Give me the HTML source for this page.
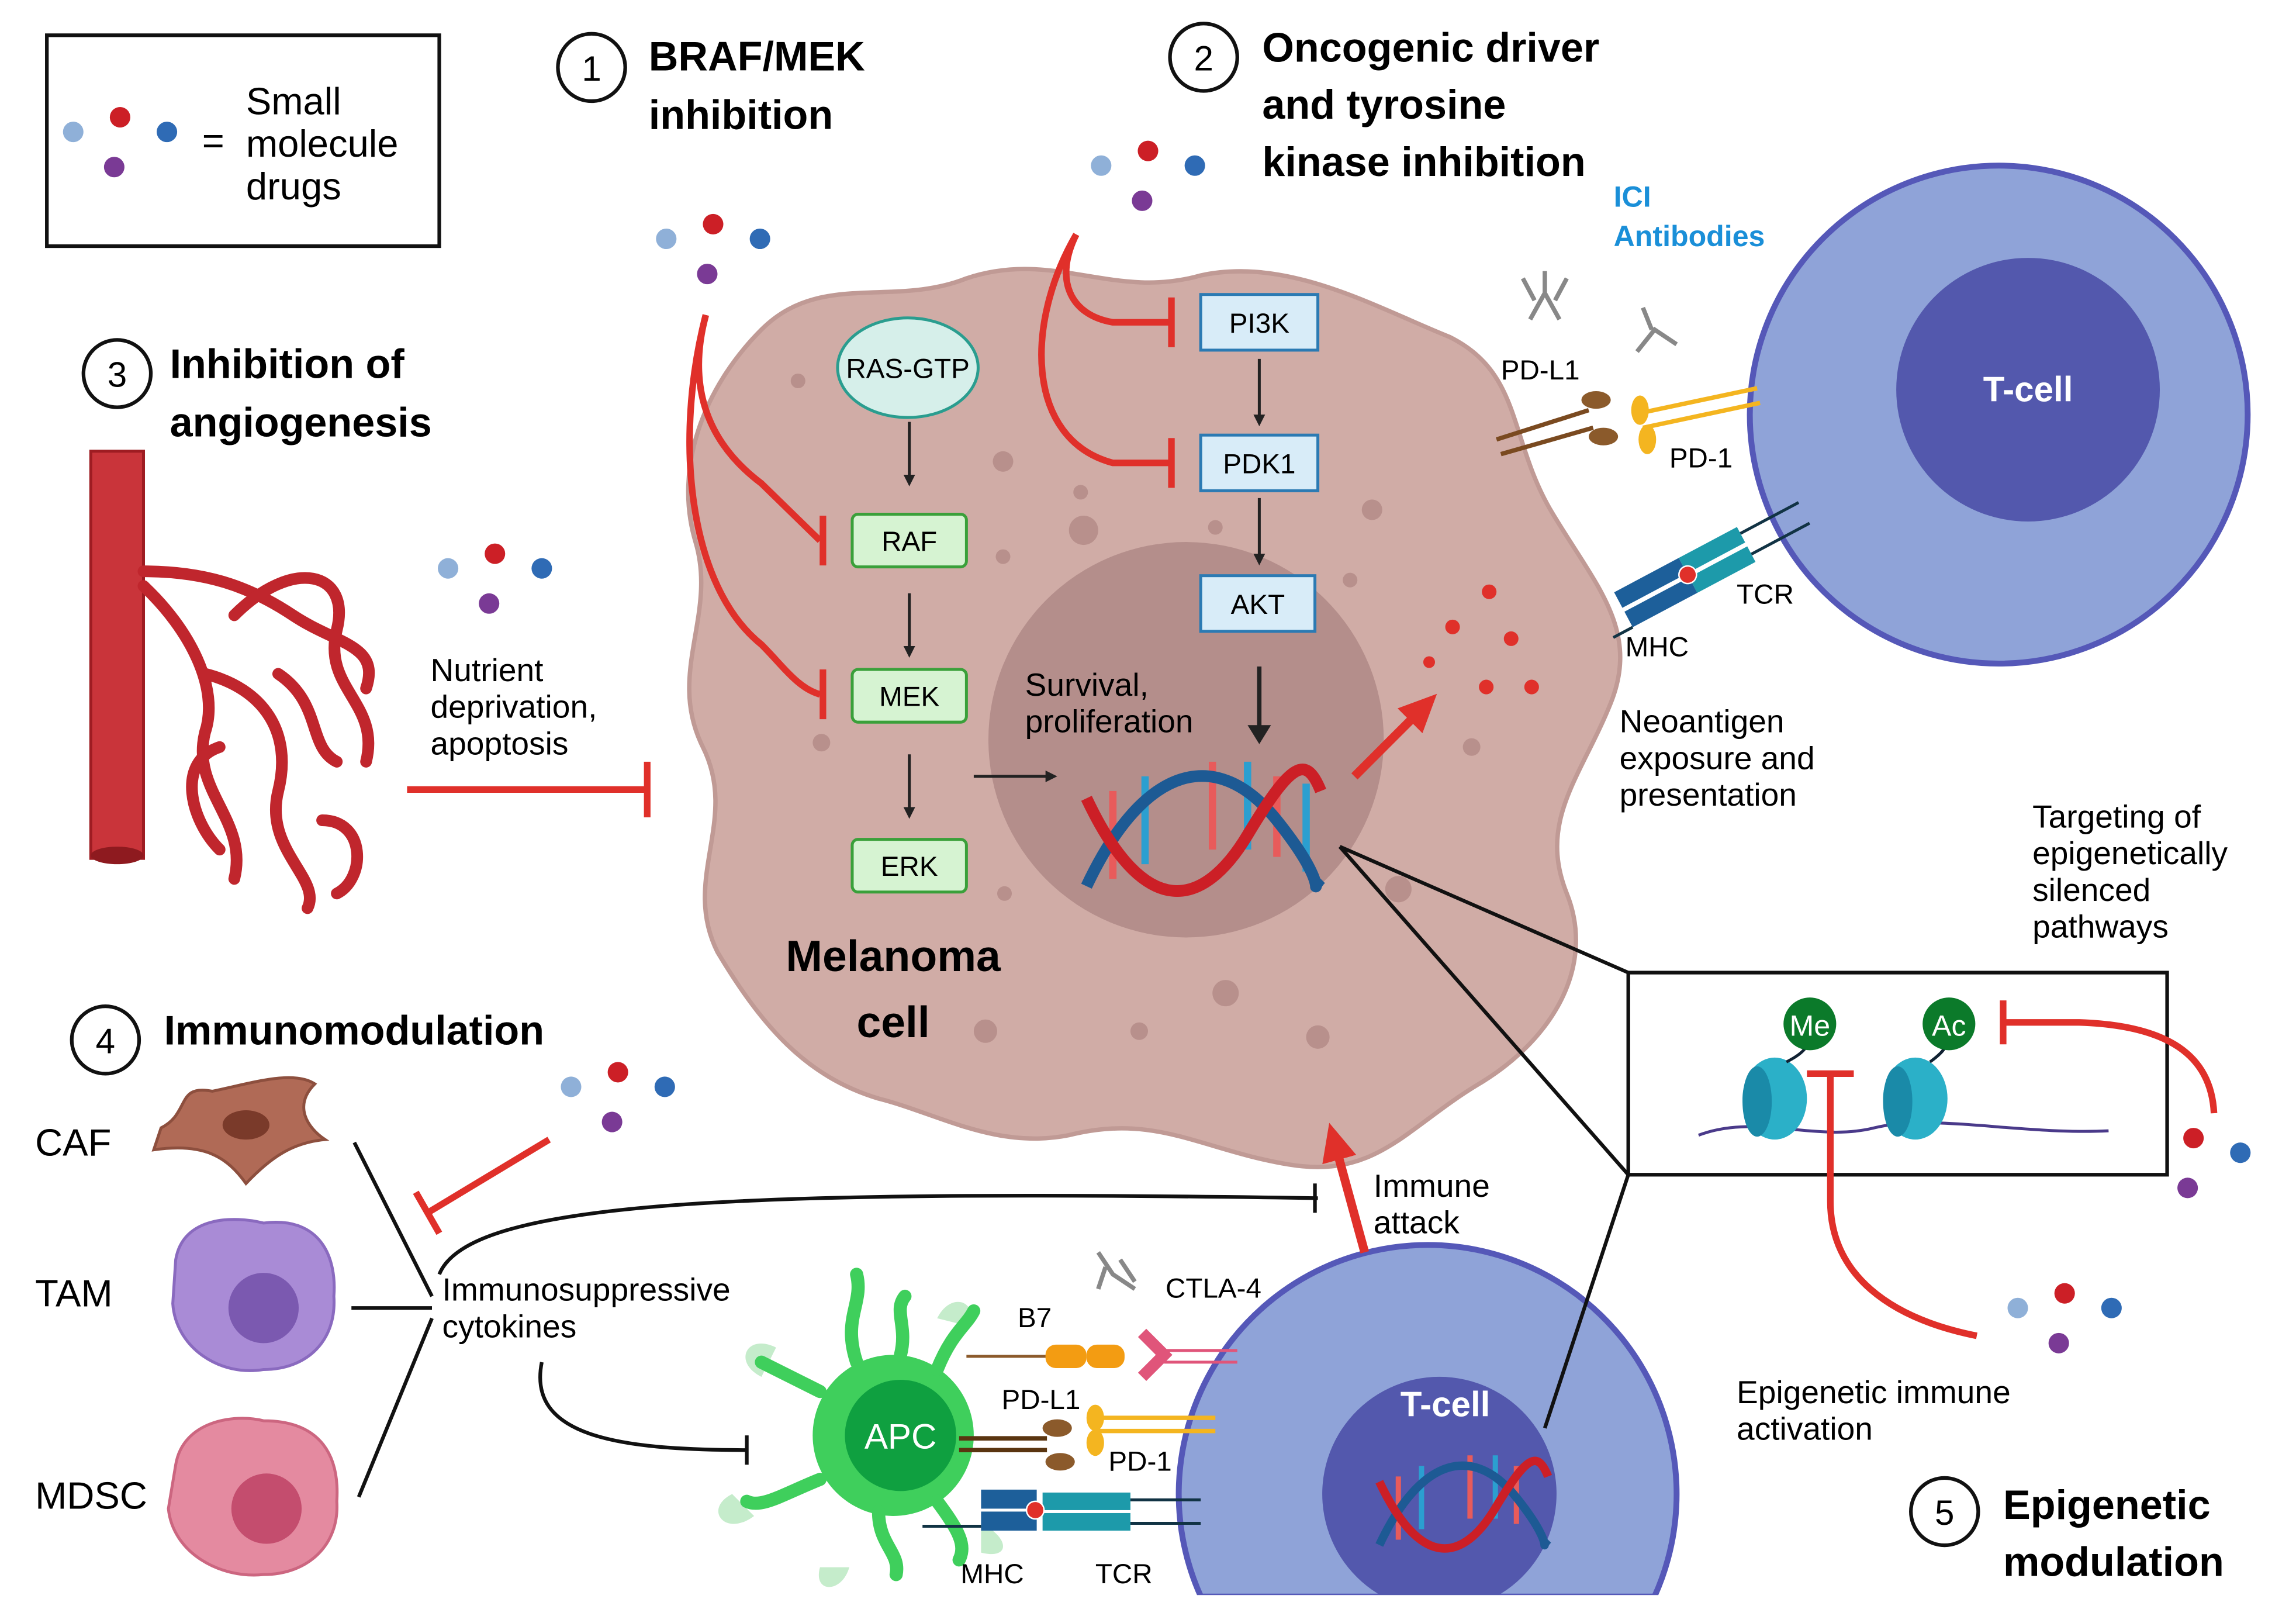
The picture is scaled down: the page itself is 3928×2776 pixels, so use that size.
<!DOCTYPE html>
<html><head><meta charset="utf-8"><style>
html,body{margin:0;padding:0;background:#fff;width:3928px;height:2776px;overflow:hidden}
svg{display:block}
text{font-family:"Liberation Sans",sans-serif}
.b{font-weight:bold}
</style></head><body>
<svg width="3928" height="2776" viewBox="0 0 1568 1108" xmlns="http://www.w3.org/2000/svg">
<defs>
<marker id="ah" markerWidth="8" markerHeight="8" refX="4" refY="4" orient="auto" markerUnits="userSpaceOnUse"><path d="M0,0 L8,4 L0,8 z" fill="#222"/></marker>
<marker id="rah" markerWidth="30" markerHeight="30" refX="10" refY="15" orient="auto" markerUnits="userSpaceOnUse"><path d="M0,3 L26,15 L0,27 z" fill="#e0302a"/></marker>
<g id="drugs"><circle cx="0" cy="0" r="7" fill="#8fb0d8"/><circle cx="32" cy="-10" r="7" fill="#cc1f26"/><circle cx="64" cy="0" r="7" fill="#2f6bb5"/><circle cx="28" cy="24" r="7" fill="#7a3a95"/></g>
</defs>

<!-- legend -->
<rect x="32" y="24" width="268" height="144" fill="#fff" stroke="#111" stroke-width="2.5"/>
<use href="#drugs" x="50" y="90"/>
<text x="138" y="105" font-size="26">=</text>
<text x="168" y="78" font-size="26">Small</text>
<text x="168" y="107" font-size="26">molecule</text>
<text x="168" y="136" font-size="26">drugs</text>

<!-- titles -->
<circle cx="404" cy="46" r="23" fill="#fff" stroke="#111" stroke-width="2.5"/><text x="404" y="55" font-size="24" text-anchor="middle">1</text>
<text x="443" y="48" font-size="28" class="b">BRAF/MEK</text><text x="443" y="88" font-size="28" class="b">inhibition</text>
<circle cx="822" cy="39" r="23" fill="#fff" stroke="#111" stroke-width="2.5"/><text x="822" y="48" font-size="24" text-anchor="middle">2</text>
<text x="862" y="42" font-size="28" class="b">Oncogenic driver</text><text x="862" y="81" font-size="28" class="b">and tyrosine</text><text x="862" y="120" font-size="28" class="b">kinase inhibition</text>
<circle cx="80" cy="255" r="23" fill="#fff" stroke="#111" stroke-width="2.5"/><text x="80" y="264" font-size="24" text-anchor="middle">3</text>
<text x="116" y="258" font-size="28" class="b">Inhibition of</text><text x="116" y="298" font-size="28" class="b">angiogenesis</text>
<circle cx="72" cy="710" r="23" fill="#fff" stroke="#111" stroke-width="2.5"/><text x="72" y="719" font-size="24" text-anchor="middle">4</text>
<text x="112" y="713" font-size="28" class="b">Immunomodulation</text>
<circle cx="1328" cy="1032" r="23" fill="#fff" stroke="#111" stroke-width="2.5"/><text x="1328" y="1041" font-size="24" text-anchor="middle">5</text>
<text x="1368" y="1037" font-size="28" class="b">Epigenetic</text><text x="1368" y="1076" font-size="28" class="b">modulation</text>
<text x="1102" y="141" font-size="20" class="b" fill="#1a8fd8">ICI</text><text x="1102" y="168" font-size="20" class="b" fill="#1a8fd8">Antibodies</text>

<!-- melanoma cell -->
<path d="M520,225 C560,185 610,210 660,190 C720,170 760,205 820,188 C880,175 940,210 990,230 C1040,255 1030,300 1060,350 C1090,400 1120,430 1100,480 C1080,530 1050,560 1070,610 C1090,660 1060,710 1010,740 C960,770 940,805 880,795 C820,785 790,760 730,775 C680,785 640,760 600,750 C550,735 520,700 490,650 C465,600 505,560 480,510 C455,460 490,420 475,370 C460,320 480,265 520,225 Z" fill="#d0aca6" stroke="#c09a95" stroke-width="3"/>
<circle cx="810" cy="505" r="135" fill="#b48e8b"/>
<g fill="#b8908c"><circle cx="685" cy="315" r="7"/><circle cx="740" cy="362" r="10"/><circle cx="738" cy="336" r="5"/><circle cx="685" cy="380" r="5"/><circle cx="830" cy="360" r="5"/><circle cx="937" cy="348" r="7"/><circle cx="922" cy="396" r="5"/><circle cx="837" cy="678" r="9"/><circle cx="778" cy="704" r="6"/><circle cx="673" cy="704" r="8"/><circle cx="900" cy="708" r="8"/><circle cx="561" cy="507" r="6"/><circle cx="686" cy="610" r="5"/><circle cx="955" cy="607" r="9"/><circle cx="1005" cy="510" r="6"/><circle cx="545" cy="260" r="5"/></g>
<text x="610" y="663" font-size="30" class="b" text-anchor="middle">Melanoma</text>
<text x="610" y="708" font-size="30" class="b" text-anchor="middle">cell</text>

<!-- pathway -->
<ellipse cx="620" cy="251" rx="48" ry="34" fill="#d6efea" stroke="#2a9d8f" stroke-width="2"/><text x="620" y="258" font-size="19" text-anchor="middle">RAS-GTP</text>
<g fill="#d6f3d2" stroke="#3aa03a" stroke-width="2"><rect x="582" y="351" width="78" height="36" rx="4"/><rect x="582" y="457" width="78" height="36" rx="4"/><rect x="582" y="573" width="78" height="36" rx="4"/></g>
<text x="621" y="376" font-size="19" text-anchor="middle">RAF</text><text x="621" y="482" font-size="19" text-anchor="middle">MEK</text><text x="621" y="598" font-size="19" text-anchor="middle">ERK</text>
<g fill="#d8ecf8" stroke="#2b7ab3" stroke-width="2"><rect x="820" y="201" width="80" height="38"/><rect x="820" y="297" width="80" height="38"/><rect x="820" y="393" width="78" height="38"/></g>
<text x="860" y="227" font-size="19" text-anchor="middle">PI3K</text><text x="860" y="323" font-size="19" text-anchor="middle">PDK1</text><text x="859" y="419" font-size="19" text-anchor="middle">AKT</text>
<g stroke="#222" stroke-width="2" fill="none" marker-end="url(#ah)"><line x1="621" y1="288" x2="621" y2="328"/><line x1="621" y1="405" x2="621" y2="445"/><line x1="621" y1="515" x2="621" y2="555"/><line x1="860" y1="245" x2="860" y2="287"/><line x1="860" y1="340" x2="860" y2="382"/><line x1="665" y1="530" x2="718" y2="530"/></g>
<line x1="860" y1="455" x2="860" y2="500" stroke="#222" stroke-width="3"/><path d="M852,495 L860,508 L868,495 z" fill="#222"/>
<text x="700" y="475" font-size="22">Survival,</text><text x="700" y="500" font-size="22">proliferation</text>

<!-- DNA -->
<g transform="translate(742,540)">
<g stroke-width="5"><line x1="18" y1="0" x2="18" y2="60" stroke="#e85b5b"/><line x1="40" y1="-10" x2="40" y2="50" stroke="#2b9fd0"/><line x1="86" y1="-20" x2="86" y2="40" stroke="#e85b5b"/><line x1="110" y1="-20" x2="110" y2="40" stroke="#2b9fd0"/><line x1="130" y1="-10" x2="130" y2="45" stroke="#e85b5b"/><line x1="150" y1="-5" x2="150" y2="55" stroke="#2b9fd0"/></g>
<path d="M0,65 C40,-20 90,-30 130,20 S150,70 160,60" fill="none" stroke="#1d5a94" stroke-width="8"/>
<path d="M0,5 C40,90 80,80 110,30 S150,-25 160,0" fill="none" stroke="#cc1f26" stroke-width="8"/>
</g>
<line x1="925" y1="530" x2="970" y2="485" stroke="#e0302a" stroke-width="6" marker-end="url(#rah)"/>
<g fill="#e0302a"><circle cx="1017" cy="404" r="5"/><circle cx="992" cy="428" r="5"/><circle cx="1032" cy="436" r="5"/><circle cx="1015" cy="469" r="5"/><circle cx="1046" cy="469" r="5"/><circle cx="976" cy="452" r="4"/></g>

<!-- drugs -->
<use href="#drugs" x="455" y="163"/>
<use href="#drugs" x="752" y="113"/>
<use href="#drugs" x="306" y="388"/>
<use href="#drugs" x="390" y="742"/>
<use href="#drugs" x="1466" y="787"/>
<use href="#drugs" x="1378" y="893"/>

<!-- red inhibition lines -->
<g stroke="#e0302a" stroke-width="4.5" fill="none">
<path d="M482,215 C470,260 480,300 520,330 L560,369"/><line x1="562" y1="352" x2="562" y2="386"/>
<path d="M482,215 C460,300 470,400 520,440 C535,455 545,470 560,474"/><line x1="562" y1="457" x2="562" y2="491"/>
<path d="M735,160 C720,190 730,215 760,220 L800,220"/><line x1="800" y1="203" x2="800" y2="237"/>
<path d="M735,160 C700,220 700,300 760,316 L800,316"/><line x1="800" y1="299" x2="800" y2="333"/>
<line x1="278" y1="539" x2="442" y2="539"/><line x1="442" y1="520" x2="442" y2="558"/>
<line x1="375" y1="778" x2="292" y2="828"/><line x1="284" y1="814" x2="300" y2="842"/>
</g>

<!-- right T cell -->
<circle cx="1365" cy="283" r="170" fill="#8fa3d8" stroke="#5558b8" stroke-width="4"/>
<circle cx="1385" cy="266" r="90" fill="#5358ad"/>
<text x="1385" y="274" font-size="24" class="b" fill="#fff" text-anchor="middle">T-cell</text>
<g stroke="#7a4a20" stroke-width="3"><line x1="1022" y1="300" x2="1085" y2="280"/><line x1="1025" y1="310" x2="1088" y2="292"/></g>
<ellipse cx="1090" cy="273" rx="10" ry="6" fill="#8b5a2b"/><ellipse cx="1095" cy="298" rx="10" ry="6" fill="#8b5a2b"/>
<g stroke="#f4b520" stroke-width="3"><line x1="1120" y1="282" x2="1200" y2="265"/><line x1="1122" y1="292" x2="1202" y2="275"/></g>
<ellipse cx="1120" cy="280" rx="6" ry="10" fill="#f4b520"/><ellipse cx="1125" cy="300" rx="6" ry="10" fill="#f4b520"/>
<g stroke="#888" stroke-width="3" fill="none"><path d="M1045,218 L1055,200 L1065,218 M1055,200 L1055,185 M1040,190 L1048,205 M1070,190 L1062,205"/><path d="M1118,240 L1130,225 L1145,235 M1128,225 L1122,210"/></g>
<text x="1025" y="259" font-size="19">PD-L1</text><text x="1140" y="319" font-size="19">PD-1</text>
<g transform="rotate(-28 1160 385)"><rect x="1100" y="375" width="50" height="12" fill="#1d5f9a"/><rect x="1100" y="390" width="50" height="12" fill="#1d5f9a"/><rect x="1150" y="375" width="45" height="12" fill="#1d9aaa"/><rect x="1150" y="390" width="45" height="12" fill="#1d9aaa"/><circle cx="1150" cy="388" r="6" fill="#e0302a" stroke="#fff"/><line x1="1085" y1="402" x2="1100" y2="402" stroke="#134" stroke-width="2"/><line x1="1195" y1="380" x2="1240" y2="380" stroke="#134" stroke-width="2"/><line x1="1195" y1="396" x2="1240" y2="396" stroke="#134" stroke-width="2"/></g>
<text x="1186" y="412" font-size="19">TCR</text><text x="1110" y="448" font-size="19">MHC</text>
<text x="1106" y="500" font-size="22">Neoantigen</text><text x="1106" y="525" font-size="22">exposure and</text><text x="1106" y="550" font-size="22">presentation</text>

<!-- angiogenesis vessel -->
<g fill="none" stroke="#c0262d" stroke-linecap="round">
<rect x="62" y="308" width="36" height="278" fill="#c9343a" stroke="#9e1c22" stroke-width="2"/>
<g stroke-width="8"><path d="M98,390 C140,390 170,400 200,420"/><path d="M98,400 C130,430 150,470 140,500 C130,540 170,560 160,600"/><path d="M160,420 C200,380 240,390 230,430 C220,470 260,480 250,520"/><path d="M140,460 C180,470 200,500 190,540 C180,580 220,600 210,620"/><path d="M200,420 C230,440 260,440 250,470"/><path d="M150,510 C120,520 130,560 150,580"/><path d="M220,560 C250,560 250,600 230,610"/><path d="M190,460 C220,480 210,510 230,520"/></g>
</g>
<ellipse cx="80" cy="584" rx="18" ry="6" fill="#8e1a1f"/>
<text x="294" y="465" font-size="22">Nutrient</text><text x="294" y="490" font-size="22">deprivation,</text><text x="294" y="515" font-size="22">apoptosis</text>

<!-- immune cells -->
<text x="24" y="789" font-size="26">CAF</text><text x="24" y="892" font-size="26">TAM</text><text x="24" y="1030" font-size="26">MDSC</text>
<path d="M110,770 C130,760 120,740 145,745 C170,740 200,730 215,740 C200,755 210,770 222,778 C200,780 185,790 168,808 C155,790 140,780 105,785 Z" fill="#b06a56" stroke="#8d4f3e" stroke-width="2"/>
<ellipse cx="168" cy="768" rx="16" ry="10" fill="#7a3a2a"/>
<path d="M120,860 C125,830 160,830 180,835 C220,830 230,860 228,885 C230,915 210,935 180,935 C150,940 120,920 118,890 Z" fill="#a98bd6" stroke="#8a6abf" stroke-width="2"/>
<circle cx="180" cy="893" r="24" fill="#7b59b0"/>
<path d="M120,1000 C125,970 160,965 180,970 C220,970 232,995 230,1025 C232,1055 210,1075 180,1075 C150,1078 118,1060 115,1030 Z" fill="#e48aa0" stroke="#cc6680" stroke-width="2"/>
<circle cx="182" cy="1030" r="24" fill="#c44d6e"/>
<g stroke="#111" stroke-width="2.5" fill="none"><line x1="242" y1="780" x2="295" y2="885"/><line x1="240" y1="893" x2="295" y2="893"/><line x1="245" y1="1022" x2="295" y2="900"/>
<path d="M300,870 C320,820 500,812 900,818"/><line x1="898" y1="808" x2="898" y2="828"/>
<path d="M370,930 C360,980 420,990 510,990"/><line x1="510" y1="980" x2="510" y2="1000"/></g>
<text x="302" y="888" font-size="22">Immunosuppressive</text><text x="302" y="913" font-size="22">cytokines</text>

<!-- APC -->
<g fill="#9fe0a8" opacity="0.6"><path d="M520,940 C500,930 510,910 530,920 Z"/><path d="M500,1020 C480,1030 495,1050 515,1035 Z"/><path d="M560,1070 C555,1088 575,1088 580,1070 Z"/><path d="M640,900 C650,880 670,890 660,905 Z"/><path d="M670,1040 C690,1050 690,1065 670,1060 Z"/></g>
<circle cx="610" cy="980" r="55" fill="#3fcf5c"/>
<g stroke="#3fcf5c" stroke-width="9" fill="none" stroke-linecap="round"><path d="M585,930 C575,900 590,890 585,870"/><path d="M615,925 C620,905 610,895 618,885"/><path d="M640,935 C650,910 660,905 665,895"/><path d="M560,950 C540,940 530,935 520,930"/><path d="M560,1010 C535,1020 520,1030 510,1025"/><path d="M600,1032 C600,1055 615,1060 612,1075"/><path d="M640,1025 C655,1045 660,1055 655,1065"/></g>
<circle cx="615" cy="980" r="38" fill="#0fa040"/>
<text x="615" y="989" font-size="24" fill="#fff" text-anchor="middle">APC</text>

<!-- bottom T cell (arc paths ending at y=1090) -->
<path d="M820.1,1090 A170,170 0 1 1 1129.9,1090 Z" fill="#8fa3d8" stroke="#5558b8" stroke-width="4"/>
<path d="M944.3,1090 A80,80 0 1 1 1021.7,1090 Z" fill="#5358ad"/>
<rect x="815" y="1089" width="320" height="4" fill="#fff"/>
<text x="987" y="967" font-size="24" class="b" fill="#fff" text-anchor="middle">T-cell</text>
<g transform="translate(942,1008) scale(0.72)">
<g stroke-width="5"><line x1="18" y1="0" x2="18" y2="60" stroke="#e85b5b"/><line x1="40" y1="-10" x2="40" y2="50" stroke="#2b9fd0"/><line x1="86" y1="-20" x2="86" y2="40" stroke="#e85b5b"/><line x1="110" y1="-20" x2="110" y2="40" stroke="#2b9fd0"/><line x1="130" y1="-10" x2="130" y2="45" stroke="#e85b5b"/></g>
<path d="M0,65 C40,-20 90,-30 130,20 S150,70 160,60" fill="none" stroke="#1d5a94" stroke-width="8"/>
<path d="M0,5 C40,90 80,80 110,30 S150,-25 160,0" fill="none" stroke="#cc1f26" stroke-width="8"/>
</g>
<!-- synapse molecules -->
<line x1="660" y1="926" x2="715" y2="926" stroke="#8b5a2b" stroke-width="2"/>
<rect x="714" y="918" width="28" height="16" rx="7" fill="#f39c12"/><rect x="742" y="918" width="26" height="16" rx="7" fill="#f39c12"/>
<path d="M780,910 L795,925 L780,940" stroke="#e0557a" stroke-width="8" fill="none"/><line x1="795" y1="922" x2="845" y2="922" stroke="#e0557a" stroke-width="2"/><line x1="795" y1="930" x2="845" y2="930" stroke="#e0557a" stroke-width="2"/>
<g stroke="#5a3510" stroke-width="3"><line x1="655" y1="982" x2="715" y2="982"/><line x1="655" y1="990" x2="715" y2="990"/></g>
<ellipse cx="722" cy="975" rx="10" ry="6" fill="#8b5a2b"/><ellipse cx="724" cy="998" rx="10" ry="6" fill="#8b5a2b"/>
<g stroke="#f4b520" stroke-width="3"><line x1="750" y1="968" x2="830" y2="968"/><line x1="750" y1="977" x2="830" y2="977"/></g>
<ellipse cx="748" cy="968" rx="6" ry="9" fill="#f4b520"/><ellipse cx="748" cy="985" rx="6" ry="9" fill="#f4b520"/>
<g stroke="#888" stroke-width="3" fill="none"><path d="M750,855 L760,870 L775,880 M755,865 L750,880 M765,860 L775,875"/></g>
<text x="695" y="906" font-size="19">B7</text><text x="796" y="886" font-size="19">CTLA-4</text><text x="684" y="962" font-size="19">PD-L1</text><text x="757" y="1004" font-size="19">PD-1</text>
<rect x="670" y="1017" width="38" height="13" fill="#1d5f9a"/><rect x="670" y="1032" width="38" height="13" fill="#1d5f9a"/><rect x="712" y="1019" width="60" height="12" fill="#1d9aaa"/><rect x="712" y="1033" width="60" height="12" fill="#1d9aaa"/>
<circle cx="707" cy="1031" r="6" fill="#e0302a" stroke="#fff"/>
<g stroke="#134" stroke-width="2"><line x1="630" y1="1042" x2="670" y2="1042"/><line x1="772" y1="1024" x2="820" y2="1024"/><line x1="772" y1="1040" x2="820" y2="1040"/></g>
<text x="656" y="1081" font-size="19">MHC</text><text x="748" y="1081" font-size="19">TCR</text>

<line x1="932" y1="855" x2="912" y2="782" stroke="#e0302a" stroke-width="6" marker-end="url(#rah)"/>
<text x="938" y="817" font-size="22">Immune</text><text x="938" y="842" font-size="22">attack</text>

<!-- epigenetic box -->
<g stroke="#111" stroke-width="2.5" fill="none"><line x1="915" y1="578" x2="1112" y2="664"/><line x1="915" y1="578" x2="1112" y2="802"/><line x1="1055" y1="975" x2="1112" y2="802"/></g>
<rect x="1112" y="664" width="368" height="138" fill="#fff" stroke="#111" stroke-width="2.5"/>
<path d="M1160,775 C1200,760 1240,780 1280,770 C1320,760 1380,775 1440,772" stroke="#4a3a8a" stroke-width="2" fill="none"/>
<ellipse cx="1212" cy="750" rx="22" ry="28" fill="#2bb0c8"/><ellipse cx="1200" cy="752" rx="10" ry="24" fill="#1a8aa8"/>
<ellipse cx="1308" cy="750" rx="22" ry="28" fill="#2bb0c8"/><ellipse cx="1296" cy="752" rx="10" ry="24" fill="#1a8aa8"/>
<path d="M1220,725 C1230,720 1235,715 1235,710 M1318,725 C1325,720 1330,715 1330,710" stroke="#123" stroke-width="2" fill="none"/>
<circle cx="1236" cy="699" r="18" fill="#0b7a2a"/><text x="1236" y="707" font-size="20" fill="#fff" text-anchor="middle">Me</text>
<circle cx="1331" cy="699" r="18" fill="#0b7a2a"/><text x="1331" y="707" font-size="20" fill="#fff" text-anchor="middle">Ac</text>
<g stroke="#e0302a" stroke-width="4.5" fill="none">
<path d="M1512,760 C1510,720 1480,700 1420,698 L1370,698"/><line x1="1368" y1="683" x2="1368" y2="713"/>
<path d="M1350,912 C1290,900 1250,870 1250,820 L1250,733"/><line x1="1234" y1="733" x2="1266" y2="733"/>
</g>
<text x="1388" y="565" font-size="22">Targeting of</text><text x="1388" y="590" font-size="22">epigenetically</text><text x="1388" y="615" font-size="22">silenced</text><text x="1388" y="640" font-size="22">pathways</text>
<text x="1186" y="958" font-size="22">Epigenetic immune</text><text x="1186" y="983" font-size="22">activation</text>
</svg>
</body></html>
